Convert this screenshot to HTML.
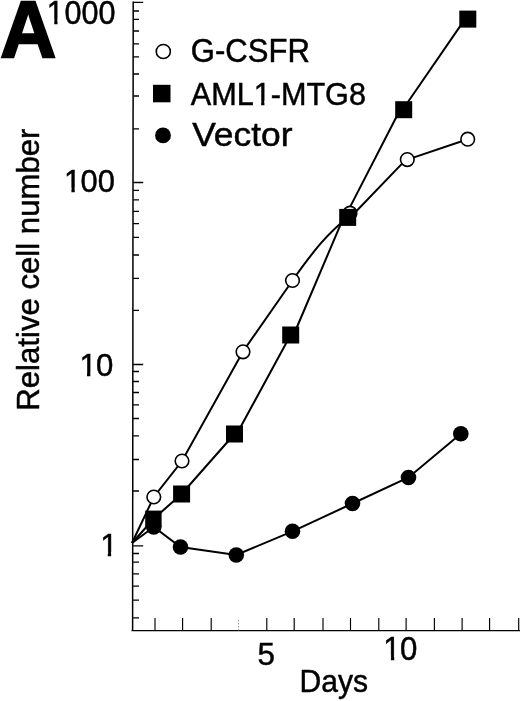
<!DOCTYPE html>
<html><head><meta charset="utf-8"><title>Figure A</title>
<style>html,body{margin:0;padding:0;background:#fff}svg{display:block}</style>
</head><body>
<svg width="520" height="701" viewBox="0 0 520 701">
<rect width="520" height="701" fill="#fff"/>
<g fill="none" stroke="#000">
<path d="M133.2 1.5L132.6 631.1" stroke-width="1.5"/>
<path d="M131.6 630.6H520" stroke-width="1.3"/>
<path d="M133.1 2.3H143.2M133.1 182.5H143.2M133.1 364.5H143.2M133.1 545.8H143.2M133.1 11.0H139.0M133.1 19.4H139.0M133.1 31.0H139.0M133.1 43.8H139.0M133.1 56.8H139.0M133.1 74.0H139.0M133.1 96.0H139.0M133.1 128.8H139.0M133.1 190.3H139.0M133.1 199.8H139.0M133.1 211.3H139.0M133.1 223.6H139.0M133.1 237.4H139.0M133.1 255.0H139.0M133.1 278.3H139.0M133.1 310.3H139.0M133.1 371.5H139.0M133.1 381.5H139.0M133.1 392.5H139.0M133.1 404.8H139.0M133.1 418.5H139.0M133.1 435.8H139.0M133.1 459.5H139.0M133.1 491.0H139.0M133.1 553.5H139.0M133.1 562.2H139.0M133.1 573.9H139.0M133.1 586.1H139.0M133.1 600.2H139.0M133.1 617.8H139.0" stroke-width="1.3"/>
<path d="M155.0 630.5V618M182.6 630.5V618M211.2 630.5V618M266.8 630.5V618M294.2 630.5V618M323.0 630.5V618M350.5 630.5V618M378.8 630.5V618M406.1 630.5V618M434.4 630.5V618M462.1 630.5V618M489.6 630.5V618M518.7 630.5V618" stroke-width="1.15"/>
<path d="M238.6 630.5V618.5" stroke="#999" stroke-width="1" stroke-dasharray="1.5 1.5"/>
<path d="M132,543L153.8,497L182,461L243,351.5L292.5,280.5C315.9,247.2 327.4,234.5 347,217.8M350,217.7L404,161.6M407.3,159.6L467.7,139.2" stroke-width="2"/>
<path d="M132,543L154,518.5L181.6,494L234.5,434M236.8,434L290.6,335M293.6,335L343.6,217.4M344.7,217.4L400.1,109.7M402.6,109.7L465,19.1" stroke-width="2"/>
<polyline points="132.0,543.0 153.8,527.0 180.5,547.0 236.3,555.0 292.5,531.3 352.5,503.5 408.5,477.5 460.8,433.8" stroke-width="2"/>
</g>
<g fill="#fff" stroke="#000" stroke-width="1.6">
<circle cx="153.8" cy="497" r="6.8"/><circle cx="182" cy="461" r="6.8"/><circle cx="243" cy="351.8" r="6.8"/><circle cx="292.5" cy="280.5" r="6.8"/><circle cx="350" cy="213.2" r="6.8"/><circle cx="407.3" cy="159.6" r="6.8"/><circle cx="467.7" cy="139.2" r="6.8"/><circle cx="163.3" cy="51.5" r="7.05"/></g>
<g fill="#000">
<circle cx="153.8" cy="527" r="7.8"/><circle cx="180.5" cy="547" r="7.8"/><circle cx="236.3" cy="555" r="7.8"/><circle cx="292.5" cy="531.3" r="7.8"/><circle cx="352.5" cy="503.5" r="7.8"/><circle cx="408.5" cy="477.5" r="7.8"/><circle cx="460.8" cy="433.8" r="7.8"/><circle cx="163" cy="135.4" r="7.9"/><rect x="145.2" y="510.6" width="16.4" height="16.4"/><rect x="173.1" y="485.5" width="17" height="17"/><rect x="226.0" y="425.5" width="17" height="17"/><rect x="282.2" y="326.5" width="17" height="17"/><rect x="339.2" y="208.9" width="17" height="17"/><rect x="395.2" y="101.2" width="17" height="17"/><rect x="459.3" y="10.6" width="17" height="17"/><rect x="153" y="84.8" width="17.5" height="17.5"/></g>
<g font-family="'Liberation Sans', Arial, Helvetica, sans-serif" font-size="30" fill="#000" stroke="#000" stroke-width="0.45">
<text transform="translate(0.35 57.1) scale(0.992 1.028)" font-size="78" font-weight="bold" stroke="#000" stroke-width="2.2">A</text>
<g transform="translate(46.84 23.53) scale(1.0200 1.0824)"><text>1<tspan x="17.33">000</tspan></text><rect x="1.20" y="-3.7" width="6.07" height="5" fill="#fff" stroke="none"/><rect x="10.48" y="-3.7" width="5.9" height="5" fill="#fff" stroke="none"/></g>
<g transform="translate(63.94 191.73) scale(1.0300 1.0635)"><text>1<tspan x="16.18">00</tspan></text><rect x="1.20" y="-3.7" width="6.07" height="5" fill="#fff" stroke="none"/><rect x="10.48" y="-3.7" width="5.9" height="5" fill="#fff" stroke="none"/></g>
<g transform="translate(79.44 376.43) scale(1.0400 1.0682)"><text>1<tspan x="16.02">0</tspan></text><rect x="1.20" y="-3.7" width="6.07" height="5" fill="#fff" stroke="none"/><rect x="10.48" y="-3.7" width="5.9" height="5" fill="#fff" stroke="none"/></g>
<g transform="translate(100.14 555.70) scale(1.0500 1.0341)"><text>1</text><rect x="1.20" y="-3.7" width="6.07" height="5" fill="#fff" stroke="none"/><rect x="10.48" y="-3.7" width="5.9" height="5" fill="#fff" stroke="none"/></g>
<g transform="translate(383.34 659.52) scale(1.0400 1.1059)"><text>1<tspan x="15.92">0</tspan></text><rect x="1.20" y="-3.7" width="6.07" height="5" fill="#fff" stroke="none"/><rect x="10.48" y="-3.7" width="5.9" height="5" fill="#fff" stroke="none"/></g>
<g transform="translate(257.49 665.04) scale(1.0456 1.0506)"><text>5</text></g>
<g transform="translate(190.85 62.23) scale(1.0348 1.0776)"><text>G-CSFR</text></g>
<g transform="translate(190.80 104.54) scale(1.0203 1.0353)"><text>AML1-MTG8</text><rect x="62.88" y="-3.7" width="6.07" height="5" fill="#fff" stroke="none"/><rect x="72.16" y="-3.7" width="5.9" height="5" fill="#fff" stroke="none"/></g>
<g transform="translate(192.21 146.13) scale(1.1798 1.0877)"><text>Vector</text></g>
<g transform="translate(299.49 691.66) scale(1.0039 1.0467)"><text>Days</text></g>
<text transform="translate(39.34 410.70) rotate(-90) scale(1.0385 1.0364)">Relative cell number</text>
</g>
</svg>
</body></html>
